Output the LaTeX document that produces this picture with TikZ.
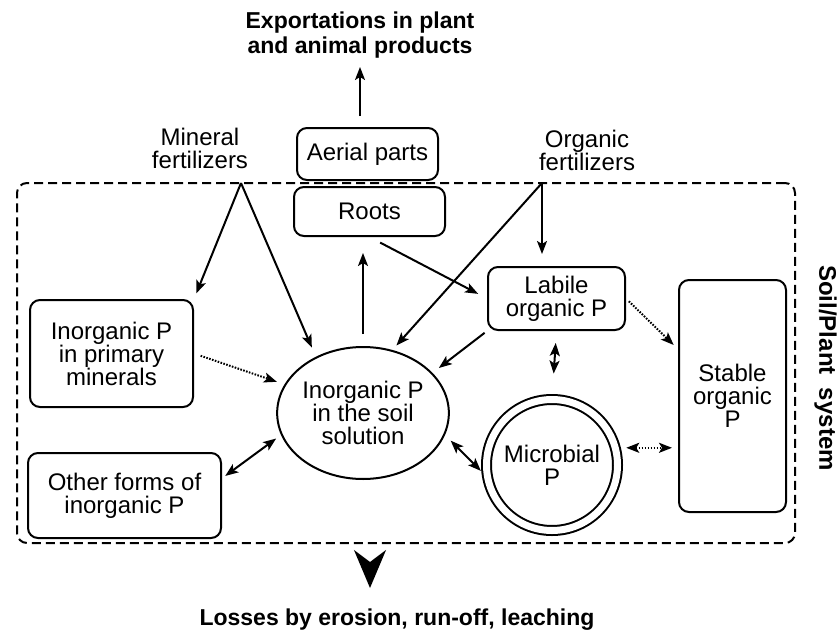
\documentclass[tikz,border=0pt]{standalone}
\usepackage{fontspec}
\setmainfont{Liberation Sans}
\usetikzlibrary{shapes,arrows.meta,calc}

\begin{document}
\begin{tikzpicture}[x=1pt,y=-1pt]
\tikzset{pbox/.style={draw, rounded corners=10pt, line width=2pt, align=center}}
\tikzset{flow/.style={-{Stealth[length=13pt,width=10pt,inset=3pt]}, line width=2pt}}
\tikzset{twoway/.style={{Stealth[length=13pt,width=10pt,inset=3pt]}-{Stealth[length=13pt,width=10pt,inset=3pt]}, line width=2pt}}
\tikzset{slow/.style={dash pattern=on 1.6pt off 1.4pt}}
\tikzstyle{every node}=[font=\fontsize{24}{23}\selectfont, inner sep=0pt, align=center]
\useasboundingbox (0,0) rectangle (838,634);

% soil/plant boundary
\node[draw, dash pattern=on 9pt off 5pt, line width=2pt, rounded corners=10pt,
      minimum width=778pt, minimum height=360pt] (system) at (406,363) {};
\node[font=\fontsize{24}{24}\selectfont\bfseries, rotate=-90, anchor=north] (systxt) at (837,368) {Soil/Plant\ \ system};

% plant
\node[pbox, minimum width=141pt, minimum height=52pt] (aerial) at (367.5,154) {Aerial parts};
\node[pbox, minimum width=151pt, minimum height=49pt] (roots) at (369.5,211.5) {Roots};
\node[font=\fontsize{23}{25}\selectfont\bfseries, anchor=south] (export) at (360,58) {Exportations in plant\\and animal products};

% inputs
\node (mineral) at (200,148) {Mineral\\fertilizers};
\node (organic) at (587,150) {Organic\\fertilizers};
\coordinate (minapex) at (241,183);
\coordinate (orgapex) at (542,183);

% pools
\node[pbox, minimum width=163pt, minimum height=107pt] (primin) at (111.5,353.5) {Inorganic P\\in primary\\minerals};
\node[pbox, minimum width=193pt, minimum height=85pt] (other) at (124.5,495.5) {Other forms of\\inorganic P};
\node[draw, ellipse, line width=2pt, minimum width=164pt, minimum height=132pt] (soil) at (363,413) {Inorganic P\\in the soil\\solution};
\node[pbox, minimum width=137pt, minimum height=63pt] (labile) at (556.5,298.5) {Labile\\organic P};
\node[pbox, minimum width=107pt, minimum height=232pt] (stable) at (732.5,396) {Stable\\organic\\P};
\node[draw, circle, line width=2pt, double, double distance=7pt, minimum size=131pt] (micro) at (552,465) {Microbial\\P};
\coordinate (stablein) at ($(stable.north west)!0.3!(stable.south west)$);

% losses
\node[font=\fontsize{23}{23}\selectfont\bfseries] (losses) at (397,620) {Losses by erosion, run-off, leaching};
\coordinate (losstip) at (370,588);

% fluxes
\draw[flow, shorten <=11pt, shorten >=9pt] (aerial.north -| export.south) -- (export.south);
\draw[flow, shorten >=6pt] (minapex) -- (primin.north east);
\draw[flow, shorten >=10pt] (minapex) -- (soil.130);
\draw[flow, shorten >=6pt] (orgapex) -- (soil.65);
\draw[flow, shorten >=12pt] (orgapex) -- (orgapex |- labile.north);
\draw[flow, shorten <=12pt, shorten >=16pt] (soil.north) -- (soil.north |- roots.south);
\draw[flow, shorten <=12pt, shorten >=10pt] (roots.south) -- (labile.west);
\draw[flow, shorten <=3pt, shorten >=8pt] (labile.south west) -- (soil.30);
\draw[twoway, shorten <=12pt, shorten >=25pt] (labile.south) -- (micro.north);
\draw[twoway, shorten <=4pt, shorten >=6pt] (other.10) -- (soil.195);
\draw[twoway, shorten <=8pt, shorten >=8pt] (soil.-15) -- (micro.190);
\draw[flow, slow, shorten <=7pt, shorten >=8pt] (primin.east) -- (soil.160);
\draw[flow, slow, shorten <=4pt, shorten >=6pt] (labile.east) -- (stablein);
\draw[twoway, slow, shorten <=10pt, shorten >=6pt] (micro.15) -- (micro.15 -| stable.west);
\draw[-{Stealth[length=38pt,width=32pt,inset=12pt]}, line width=1.8pt, shorten <=19pt] (losstip |- system.south) -- (losstip);
\end{tikzpicture}
\end{document}
